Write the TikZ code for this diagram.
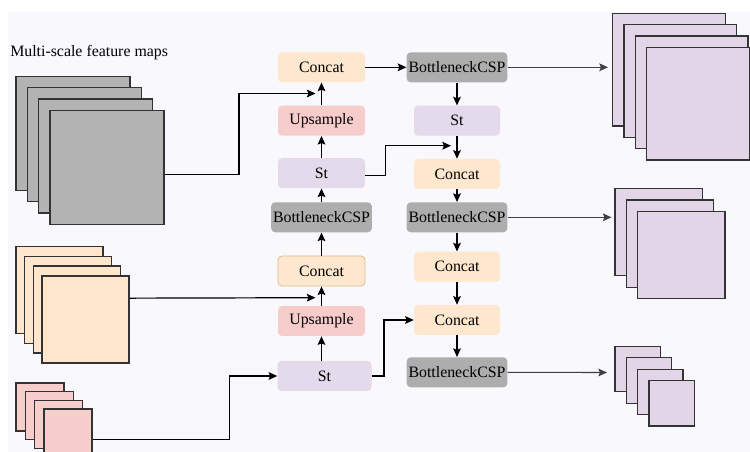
\documentclass[tikz,border=0pt]{standalone}
\usepackage{fontspec}
\setmainfont{Liberation Serif}
\usetikzlibrary{arrows.meta,calc}
\definecolor{bgc}{HTML}{F9F9FD}
\definecolor{edgec}{HTML}{333333}
\definecolor{grayfill}{HTML}{B3B3B3}
\definecolor{orangefill}{HTML}{FFE6CC}
\definecolor{pinkfill}{HTML}{F8CECC}
\definecolor{purplefill}{HTML}{E1D5E7}
\definecolor{boxgray}{HTML}{ADADAD}
\definecolor{boxorange}{HTML}{FDE8CF}
\definecolor{boxpink}{HTML}{F6CDCB}
\definecolor{boxpurple}{HTML}{E3DAEB}
\definecolor{tanedge}{HTML}{D9C08A}
\begin{document}
\begin{tikzpicture}[x=0.75pt,y=-0.75pt,
  box/.style={rounded corners=3pt, inner sep=0pt, minimum height=22.5pt,
    font=\fontsize{11.9}{14}\selectfont, text=black},
  wcat/.style={minimum width=65.25pt},
  wbot/.style={minimum width=75.5pt},
  catbox/.style={box, wcat, fill=boxorange},
  upbox/.style={box, wcat, fill=boxpink},
  stbox/.style={box, wcat, fill=boxpurple},
  botbox/.style={box, wbot, fill=boxgray},
  sq/.style={draw=edgec, line width=1pt, inner sep=0pt, anchor=north west},
  gsq/.style={sq, fill=grayfill, minimum size=85.5pt},
  osq/.style={sq, fill=orangefill, minimum size=65.25pt},
  psq/.style={sq, fill=pinkfill, minimum size=36pt},
  lsq/.style={sq, fill=purplefill, minimum size=84.4pt},
  msq/.style={sq, fill=purplefill, minimum size=65.6pt},
  ssq/.style={sq, fill=purplefill, minimum size=34.1pt},
  arr/.style={draw=black, line width=0.9pt, -{Stealth[length=6.5pt,width=5.8pt,inset=1.2pt]}},
  arrg/.style={draw=black!75, line width=0.8pt, -{Stealth[length=6.5pt,width=5.8pt,inset=1.2pt]}},
]
\useasboundingbox (0,0) rectangle (750,452);
\clip (0,0) rectangle (750,452);
\fill[white] (0,0) rectangle (750,452);
\fill[bgc] (8,12) rectangle (750,452);

% title
\node[anchor=base west, inner sep=0pt, font=\fontsize{11.9}{14}\selectfont] (title) at (10,56.5) {Multi-scale feature maps};

% gray stack
\node[gsq] (g1) at (15.3,75.7) {};
\node[gsq] (g2) at (26.6,87.0) {};
\node[gsq] (g3) at (37.9,98.4) {};
\node[gsq] (g4) at (49.2,109.8) {};

% orange stack
\node[osq] (o1) at (15.3,245.7) {};
\node[osq] (o2) at (24.0,255.6) {};
\node[osq] (o3) at (32.6,265.4) {};
\node[osq] (o4) at (41.3,275.3) {};

% pink stack
\node[psq] (p1) at (15.3,382.3) {};
\node[psq] (p2) at (24.6,391.0) {};
\node[psq] (p3) at (33.9,399.6) {};
\node[psq] (p4) at (43.3,408.3) {};

% purple large stack
\node[lsq] (L1) at (612.0,12.7) {};
\node[lsq] (L2) at (623.3,24.0) {};
\node[lsq] (L3) at (634.7,35.3) {};
\node[sq, fill=purplefill, minimum width=77.4pt, minimum height=84.4pt] (L4) at (646.0,46.7) {};

% purple medium stack
\node[msq] (M1) at (614.3,187.7) {};
\node[msq] (M2) at (625.6,199.2) {};
\node[msq] (M3) at (636.9,210.7) {};

% purple small stack
\node[ssq] (S1) at (614.3,345.7) {};
\node[ssq] (S2) at (625.6,357.1) {};
\node[ssq] (S3) at (637.0,368.6) {};
\node[ssq] (S4) at (648.3,380.0) {};

% column 1
\node[catbox] (cA) at (321.5,67.3) {Concat};
\node[upbox]  (uA) at (321.5,120.7) {Upsample};
\node[stbox]  (sA) at (321.5,173.2) {St};
\node[botbox] (bA) at (321.5,217.3) {BottleneckCSP};
\node[catbox, draw=tanedge, line width=0.6pt, minimum height=22.5pt] (cB) at (321.5,271) {Concat};
\node[upbox]  (uB) at (321.5,321) {Upsample};
\node[stbox, minimum width=70.5pt] (sB) at (324.5,376) {St};

% column 2
\node[botbox] (b1) at (457,67.3) {BottleneckCSP};
\node[stbox, minimum width=64.5pt] (s2) at (457,120.7) {St};
\node[catbox, minimum width=64.5pt] (c2) at (457,174) {Concat};
\node[botbox] (b2) at (457,217.3) {BottleneckCSP};
\node[catbox, minimum width=64.5pt] (c3) at (457,266.7) {Concat};
\node[catbox, minimum width=64.5pt] (c4) at (457,320) {Concat};
\node[botbox] (b3) at (457,372.3) {BottleneckCSP};

% junction coordinates
\coordinate (t1) at (315.5,93.5);
\coordinate (t2) at (315.5,297.7);
\coordinate (t3) at (451,145.7);
\coordinate (r1) at (608,67.3);
\coordinate (r2) at (611.5,217.3);
\coordinate (r3) at (607,372.5);

% column 1 vertical arrows
\draw[arr] (sB.north -| uB.south) -- (uB.south);
\draw[arr] (uB) -- (cB);
\draw[arr] (cB) -- (bA);
\draw[arr] (bA) -- (sA);
\draw[arr] (sA) -- (uA);
\draw[arr] (uA) -- (cA);

% column 2 vertical arrows
\draw[arr] (b1) -- (s2);
\draw[arr] (s2) -- (c2);
\draw[arr] (c2) -- (b2);
\draw[arr] (b2) -- (c3);
\draw[arr] (c3) -- (c4);
\draw[arr] (c4) -- (b3);

% horizontal
\draw[arr] (cA) -- (b1);
\draw[arr] ($(g4.east)+(0,7)$) -- ++(74.5,0) |- (t1);
\draw[arr] ($(o4.east)+(0,-21.3)$) -- (t2);
\draw[arr] ($(p4.east)+(0,6.7)$) -- ++(137,0) |- (sB.west);
\draw[arr] ($(sA.east)+(0,2.5)$) -- ++(20,0) |- (t3);
\draw[arr] (sB.east) -- ++(12.3,0) |- (c4.west);

% outputs
\draw[arrg] (b1) -- (r1);
\draw[arrg] (b2) -- (r2);
\draw[arrg] (b3) -- (r3);
\end{tikzpicture}
\end{document}
